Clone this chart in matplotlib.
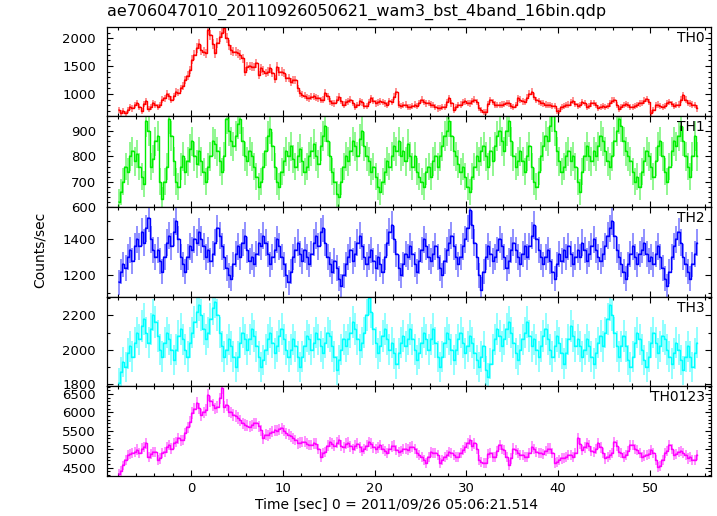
import numpy as np
import matplotlib.pyplot as plt
from matplotlib.ticker import MultipleLocator

plt.rcParams['font.family'] = ['DejaVu Sans']

# 0.25 s bins, bin centres start at -7.875 s
binsize = 0.25
tstart = -7.875

th0 = [
    710, 660, 690, 650,  720, 770, 740, 800,  835, 760, 690, 820,  870, 730, 760, 840,
    810, 760, 800, 900,  920, 1000, 960, 900,  960, 1040, 1020, 1100,  1140, 1250, 1330, 1430,
    1610, 1700, 1820, 1900,  1790, 1760, 1730, 2150,  2060, 1900, 1730, 1910,  2030, 2100, 2180, 2000,
    1880, 1790, 1760, 1760,  1730, 1700, 1640, 1400,  1490, 1500, 1490, 1480,  1550, 1340, 1460, 1420,
    1370, 1400, 1460, 1380,  1260, 1490, 1400, 1400,  1370, 1290, 1280, 1220,  1250, 1250, 1100, 1010,
    990, 970, 930, 920,  950, 960, 930, 920,  890, 900, 1020, 960,  870, 840, 830, 900,
    950, 880, 810, 850,  870, 900, 840, 770,  800, 870, 850, 790,  790, 860, 925, 880,
    830, 850, 870, 860,  830, 800, 870, 860,  950, 1040, 810, 790,  800, 810, 770, 760,
    790, 810, 790, 840,  900, 860, 830, 840,  810, 800, 760, 740,  750, 770, 760, 850,
    925, 830, 720, 760,  800, 810, 860, 870,  840, 830, 870, 895,  860, 750, 720, 680,
    670, 820, 890, 860,  810, 800, 800, 810,  820, 840, 830, 790,  770, 800, 920, 900,
    870, 860, 930, 1000,  1040, 950, 890, 870,  840, 830, 810, 800,  800, 790, 780, 690,
    690, 760, 780, 800,  810, 850, 880, 820,  780, 800, 860, 840,  770, 780, 830, 840,
    800, 750, 760, 780,  770, 790, 830, 880,  890, 800, 730, 760,  800, 820, 800, 770,
    760, 780, 800, 830,  840, 880, 910, 860,  660, 720, 800, 810,  790, 770, 790, 840,
    860, 820, 790, 800,  810, 900, 980, 900,  840, 830, 810, 800,  740,
]

th1 = [
    620, 660, 700, 760,  740, 800, 820, 780,  810, 760, 720, 690,  940, 900, 760, 790,
    860, 880, 700, 630,  700, 760, 950, 880,  780, 700, 680, 760,  800, 740, 780, 830,
    860, 800, 770, 820,  780, 740, 700, 760,  800, 860, 850, 820,  780, 740, 800, 950,
    900, 860, 840, 880,  930, 950, 860, 800,  780, 820, 800, 760,  720, 680, 700, 760,
    820, 880, 910, 840,  760, 700, 680, 740,  780, 820, 800, 840,  790, 760, 800, 830,
    780, 740, 760, 800,  820, 850, 800, 770,  840, 880, 920, 860,  800, 740, 700, 650,
    640, 700, 760, 800,  780, 820, 860, 840,  800, 870, 900, 840,  800, 780, 740, 760,
    720, 680, 660, 700,  740, 780, 760, 800,  840, 820, 860, 800,  820, 780, 850, 800,
    760, 800, 740, 720,  700, 680, 740, 760,  720, 780, 800, 760,  800, 840, 880, 900,
    940, 880, 820, 800,  770, 740, 760, 720,  680, 660, 720, 760,  800, 780, 820, 840,
    800, 760, 820, 780,  840, 880, 900, 860,  820, 900, 940, 860,  800, 760, 780, 820,
    780, 740, 800, 840,  760, 700, 680, 740,  800, 840, 880, 860,  920, 960, 900, 820,
    780, 740, 760, 800,  820, 780, 800, 760,  700, 660, 740, 800,  840, 800, 780, 820,
    800, 840, 880, 860,  820, 780, 760, 800,  860, 900, 950, 920,  860, 820, 800, 780,
    740, 700, 720, 680,  740, 780, 820, 800,  760, 720, 780, 840,  860, 800, 740, 700,
    760, 820, 860, 840,  880, 920, 860, 800,  760, 720, 800, 880,  800,
]

th2 = [
    1160, 1220, 1260, 1240,  1300, 1340, 1280, 1360,  1400, 1360, 1440, 1380,  1460, 1520, 1400, 1340,
    1300, 1340, 1280, 1220,  1300, 1380, 1420, 1360,  1440, 1500, 1400, 1300,  1260, 1220, 1300, 1360,
    1340, 1400, 1380, 1440,  1400, 1360, 1300, 1340,  1280, 1320, 1380, 1460,  1420, 1360, 1300, 1240,
    1200, 1180, 1260, 1320,  1360, 1300, 1380, 1420,  1340, 1280, 1300, 1260,  1320, 1380, 1360, 1420,
    1380, 1320, 1260, 1300,  1340, 1400, 1360, 1300,  1260, 1200, 1160, 1220,  1300, 1340, 1380, 1320,
    1280, 1340, 1300, 1260,  1320, 1380, 1420, 1360,  1440, 1460, 1380, 1300,  1260, 1220, 1280, 1240,
    1180, 1140, 1200, 1260,  1300, 1340, 1280, 1320,  1380, 1420, 1360, 1300,  1260, 1300, 1340, 1280,
    1240, 1300, 1260, 1220,  1300, 1380, 1440, 1480,  1400, 1320, 1240, 1200,  1260, 1320, 1300, 1360,
    1320, 1260, 1220, 1280,  1340, 1400, 1360, 1300,  1280, 1320, 1360, 1300,  1240, 1200, 1280, 1340,
    1380, 1420, 1360, 1300,  1260, 1300, 1360, 1400,  1460, 1560, 1480, 1380,  1300, 1200, 1120, 1220,
    1300, 1360, 1320, 1280,  1300, 1340, 1400, 1360,  1300, 1240, 1280, 1340,  1380, 1340, 1300, 1260,
    1320, 1360, 1300, 1360,  1420, 1480, 1400, 1340,  1300, 1260, 1300, 1340,  1280, 1220, 1180, 1260,
    1320, 1280, 1340, 1300,  1360, 1320, 1260, 1300,  1340, 1300, 1380, 1340,  1280, 1320, 1360, 1400,
    1340, 1300, 1280, 1320,  1360, 1420, 1460, 1500,  1420, 1340, 1300, 1260,  1220, 1180, 1260, 1320,
    1360, 1300, 1260, 1320,  1340, 1380, 1320, 1280,  1300, 1260, 1320, 1360,  1300, 1240, 1180, 1140,
    1220, 1300, 1360, 1400,  1440, 1380, 1300, 1260,  1220, 1180, 1260, 1320,  1380,
]

th3 = [
    1810, 1870, 1930, 1900,  1980, 2020, 1960, 2040,  2100, 2060, 2140, 2180,  2100, 2040, 2120, 2200,
    2160, 2080, 2000, 1960,  2040, 2100, 2060, 2000,  1940, 2000, 2080, 2120,  2060, 2000, 1960, 2040,
    2100, 2160, 2220, 2260,  2200, 2120, 2060, 2100,  2180, 2240, 2280, 2200,  2100, 2020, 1960, 2000,
    2060, 2020, 1960, 1900,  1960, 2040, 2100, 2060,  2000, 2060, 2120, 2080,  2020, 1960, 1900, 1940,
    2000, 2060, 2100, 2040,  1980, 2020, 2080, 2120,  2060, 2000, 1960, 2000,  2060, 2020, 1960, 1900,
    1960, 2020, 2080, 2060,  2000, 2040, 2100, 2060,  2020, 1980, 2040, 2100,  2080, 2020, 1960, 1880,
    1940, 2000, 2060, 2020,  2060, 2100, 2160, 2120,  2060, 2000, 2040, 2100,  2200, 2300, 2220, 2120,
    2040, 1980, 2020, 2080,  2120, 2060, 2000, 2040,  1980, 1920, 1980, 2040,  2080, 2020, 2060, 2120,
    2060, 2000, 1940, 1980,  2040, 2100, 2060, 2000,  2060, 2120, 2040, 1960,  1900, 1960, 2040, 2100,
    2060, 2000, 1940, 2000,  2060, 2100, 2040, 1980,  2020, 2080, 2040, 1980,  1940, 1900, 1960, 2020,
    1880, 1840, 1920, 2000,  2060, 2120, 2080, 2020,  2060, 2120, 2160, 2100,  2040, 1980, 1940, 2000,
    2060, 2100, 2160, 2080,  2020, 2060, 2000, 1960,  2020, 2080, 2120, 2060,  2000, 1960, 2020, 2080,
    2040, 1980, 1920, 1980,  2060, 2140, 2080, 2020,  2060, 2020, 1960, 2000,  2060, 2020, 1960, 1920,
    1980, 2040, 2080, 2020,  2100, 2180, 2260, 2200,  2100, 2020, 1960, 2020,  2080, 2020, 1940, 1900,
    1960, 2040, 2100, 2060,  2000, 1940, 1900, 1960,  2040, 2100, 2040, 1980,  2020, 2080, 2060, 2000,
    1960, 1920, 1980, 2040,  2000, 1940, 1880, 1960,  2020, 1960, 1900, 1980,  2040,
]

th0123 = [
    4340, 4420, 4560, 4700,  4840, 4880, 4900, 4920,  4990, 4900, 5020, 5060,  5160, 4800, 4880, 4930,
    4930, 4720, 4750, 4900,  4930, 5050, 5110, 5020,  5160, 5200, 5300, 5240,  5250, 5430, 5600, 5750,
    5980, 6100, 6250, 6110,  5930, 6000, 6070, 6470,  6300, 6200, 6110, 6150,  6380, 6650, 6150, 6200,
    6020, 6000, 5930, 5900,  5850, 5790, 5700, 5660,  5640, 5610, 5650, 5700,  5700, 5620, 5520, 5300,
    5390, 5380, 5430, 5480,  5520, 5500, 5540, 5570,  5500, 5430, 5400, 5350,  5300, 5250, 5160, 5180,
    5200, 5210, 5150, 5120,  5110, 5160, 5150, 5000,  4800, 4900, 4930, 5100,  5200, 5150, 5100, 5180,
    5250, 5100, 5050, 5150,  5180, 5080, 5000, 5100,  5150, 5050, 4950, 5000,  5100, 5200, 5150, 5050,
    5000, 5050, 5120, 5000,  4950, 4900, 5000, 5080,  5100, 4980, 4930, 4950,  5000, 5020, 4990, 5050,
    5070, 5000, 4900, 4850,  4800, 4700, 4620, 4800,  4930, 4900, 4890, 4850,  4620, 4700, 4800, 4850,
    4930, 4900, 4850, 4800,  4800, 4900, 4980, 5050,  5160, 5250, 5100, 5160,  5000, 4710, 4650, 4620,
    4620, 4880, 4900, 4800,  4800, 4950, 5110, 5000,  4980, 4800, 4570, 4750,  5020, 4980, 4900, 4850,
    4840, 4800, 4790, 4900,  5070, 5000, 4930, 4900,  4890, 4880, 4950, 5020,  5020, 4900, 4620, 4650,
    4700, 4750, 4760, 4800,  4850, 4840, 4800, 4900,  5300, 5150, 4980, 5050,  5160, 5100, 4950, 4930,
    5000, 5160, 5050, 4900,  4750, 4800, 4840, 4900,  5200, 5100, 4930, 4900,  4800, 4850, 4950, 5110,
    5110, 5000, 4980, 4900,  4800, 4830, 4850, 4880,  4980, 4900, 4700, 4530,  4550, 4700, 4890, 4950,
    5110, 5000, 4850, 4880,  4930, 4950, 4900, 4850,  4750, 4800, 4700, 4720,  4840,
]

names = ['TH0', 'TH1', 'TH2', 'TH3', 'TH0123']
series = [th0, th1, th2, th3, th0123]
colors = ['#ff0000', '#00ee00', '#0000ff', '#00ffff', '#ff00ff']
ylims = [(605, 2195), (600, 961), (1080, 1581), (1790, 2308), (4275, 6717)]
majors = [500, 100, 200, 200, 500]
minors = [100, 20, 100, 100, 100]

W, H = 717, 516
fig = plt.figure(figsize=(W / 100, H / 100), dpi=100)

left, right = 107, 711
edges = [27.3, 116, 206.7, 296.7, 386, 476]

for k in range(5):
    vals = np.array(series[k], dtype=float)
    t = tstart + binsize * np.arange(len(vals))
    err = np.sqrt(vals * binsize) / binsize

    ax = fig.add_axes([left / W, 1 - edges[k + 1] / H,
                       (right - left) / W, (edges[k + 1] - edges[k]) / H])
    ax.errorbar(t, vals, yerr=err, xerr=binsize / 2, fmt='none',
                ecolor=colors[k], elinewidth=1.2, alpha=0.5)
    ax.step(t, vals, where='mid', color=colors[k], lw=1.0)

    ax.set_xlim(-9.15, 56.65)
    ax.set_ylim(*ylims[k])
    ax.xaxis.set_major_locator(MultipleLocator(10))
    ax.xaxis.set_minor_locator(MultipleLocator(2))
    ax.yaxis.set_major_locator(MultipleLocator(majors[k]))
    ax.yaxis.set_minor_locator(MultipleLocator(minors[k]))
    ax.tick_params(which='both', direction='in', top=True, right=True,
                   width=0.8, labelsize=9.5, pad=8)
    ax.tick_params(which='major', length=4.5)
    ax.tick_params(which='minor', length=2.5)
    if k < 4:
        ax.tick_params(labelbottom=False)
    else:
        ax.tick_params(axis='x', pad=4)
    for s in ax.spines.values():
        s.set_linewidth(0.9)
    ax.text(0.99, 0.955, names[k], transform=ax.transAxes,
            ha='right', va='top', fontsize=10)

fig.text(left / W, 1 - 12 / H, 'ae706047010_20110926050621_wam3_bst_4band_16bin.qdp',
         ha='left', va='center', fontsize=11.5)
fig.text(40 / W, 1 - 250 / H, 'Counts/sec', rotation=90,
         ha='center', va='center', fontsize=10)
fig.text(397 / W, 1 - 505 / H, 'Time [sec] 0 = 2011/09/26 05:06:21.514',
         ha='center', va='center', fontsize=10)

fig.savefig('out.png', dpi=100)
